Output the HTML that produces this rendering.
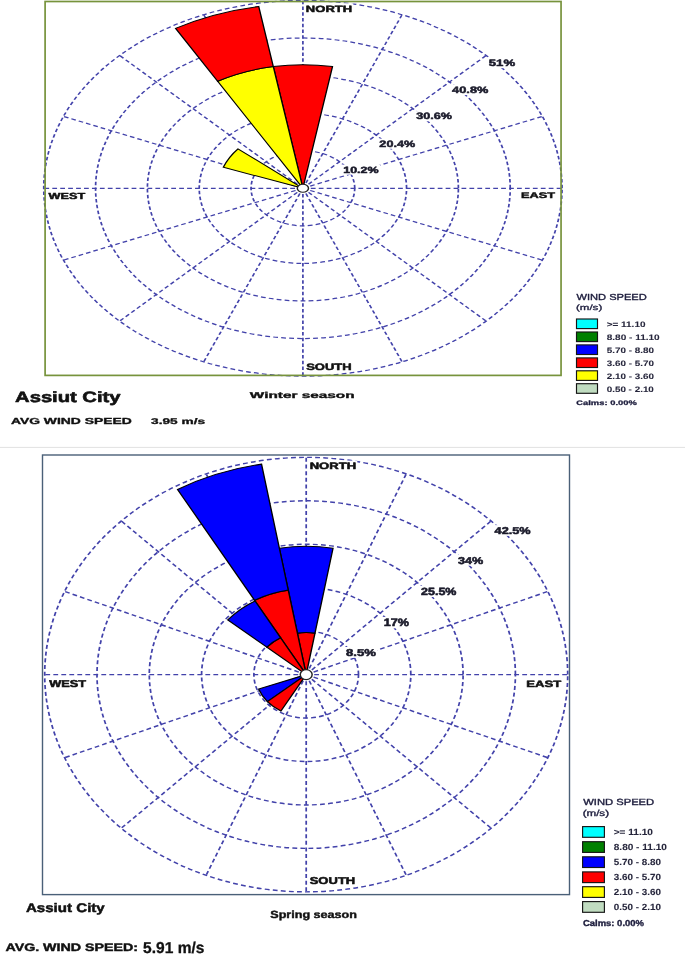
<!DOCTYPE html>
<html><head><meta charset="utf-8"><title>Wind rose</title>
<style>html,body{margin:0;padding:0;background:#fff;width:685px;height:955px;overflow:hidden}svg{display:block;filter:blur(0.3px)}</style></head>
<body><svg width="685" height="955" viewBox="0 0 685 955" font-family="'Liberation Sans', sans-serif" font-size="100" text-rendering="geometricPrecision">
<rect x="0" y="446.9" width="685" height="1" fill="#e2e2e2"/>
<g transform="translate(302.9 188.27) scale(51.83 37.57)">
<g fill="none" stroke="#4242aa" stroke-width="0.033" stroke-dasharray="0.093 0.0618">
<path d="M1 0A1 1 0 0 0 -1 0A1 1 0 0 0 1 0"/>
<path d="M2 0A2 2 0 0 0 -2 0A2 2 0 0 0 2 0"/>
<path d="M3 0A3 3 0 0 0 -3 0A3 3 0 0 0 3 0"/>
<path d="M4 0A4 4 0 0 0 -4 0A4 4 0 0 0 4 0"/>
<path d="M5 0A5 5 0 0 0 -5 0A5 5 0 0 0 5 0"/>
<line x1="0" y1="0" x2="0" y2="-5" stroke-dasharray="0.092 0.061"/>
<line x1="0" y1="0" x2="1.913" y2="-4.619" stroke-dasharray="0.092 0.061"/>
<line x1="0" y1="0" x2="3.536" y2="-3.536" stroke-dasharray="0.092 0.061"/>
<line x1="0" y1="0" x2="4.619" y2="-1.913" stroke-dasharray="0.092 0.061"/>
<line x1="0" y1="0" x2="5" y2="-0" stroke-dasharray="0.092 0.061"/>
<line x1="0" y1="0" x2="4.619" y2="1.913" stroke-dasharray="0.092 0.061"/>
<line x1="0" y1="0" x2="3.536" y2="3.536" stroke-dasharray="0.092 0.061"/>
<line x1="0" y1="0" x2="1.913" y2="4.619" stroke-dasharray="0.092 0.061"/>
<line x1="0" y1="0" x2="0" y2="5" stroke-dasharray="0.092 0.061"/>
<line x1="0" y1="0" x2="-1.913" y2="4.619" stroke-dasharray="0.092 0.061"/>
<line x1="0" y1="0" x2="-3.536" y2="3.536" stroke-dasharray="0.092 0.061"/>
<line x1="0" y1="0" x2="-4.619" y2="1.913" stroke-dasharray="0.092 0.061"/>
<line x1="0" y1="0" x2="-5" y2="0" stroke-dasharray="0.092 0.061"/>
<line x1="0" y1="0" x2="-4.619" y2="-1.913" stroke-dasharray="0.092 0.061"/>
<line x1="0" y1="0" x2="-3.536" y2="-3.536" stroke-dasharray="0.092 0.061"/>
<line x1="0" y1="0" x2="-1.913" y2="-4.619" stroke-dasharray="0.092 0.061"/>
</g>
<g stroke="#000" stroke-width="0.026" stroke-linejoin="miter">
<path d="M0 0L-0.571 -3.24A3.29 3.29 0 0 1 0.571 -3.24Z" fill="#ff0000"/>
<path d="M0 0L-1.645 -2.849A3.29 3.29 0 0 1 -0.571 -3.24Z" fill="#ffff00"/>
<path d="M-1.645 -2.849L-2.457 -4.257A4.915 4.915 0 0 1 -0.853 -4.84L-0.571 -3.24A3.29 3.29 0 0 0 -1.645 -2.849Z" fill="#ff0000"/>
<path d="M0 0L-1.535 -0.559A1.634 1.634 0 0 1 -1.252 -1.05Z" fill="#ffff00"/>
</g>
<circle r="0.108" fill="#fff" stroke="#222" stroke-width="0.028"/>
</g>
<rect x="45.1" y="1.5" width="515.95" height="373.9" fill="none" stroke="#77933c" stroke-width="1.7"/>
<g transform="translate(306.2 674.6) scale(52.3 43.45)">
<g fill="none" stroke="#4242aa" stroke-width="0.033" stroke-dasharray="0.093 0.0618">
<path d="M1 0A1 1 0 0 0 -1 0A1 1 0 0 0 1 0"/>
<path d="M2 0A2 2 0 0 0 -2 0A2 2 0 0 0 2 0"/>
<path d="M3 0A3 3 0 0 0 -3 0A3 3 0 0 0 3 0"/>
<path d="M4 0A4 4 0 0 0 -4 0A4 4 0 0 0 4 0"/>
<path d="M5 0A5 5 0 0 0 -5 0A5 5 0 0 0 5 0"/>
<line x1="0" y1="0" x2="0" y2="-5" stroke-dasharray="0.092 0.061"/>
<line x1="0" y1="0" x2="1.913" y2="-4.619" stroke-dasharray="0.092 0.061"/>
<line x1="0" y1="0" x2="3.536" y2="-3.536" stroke-dasharray="0.092 0.061"/>
<line x1="0" y1="0" x2="4.619" y2="-1.913" stroke-dasharray="0.092 0.061"/>
<line x1="0" y1="0" x2="5" y2="-0" stroke-dasharray="0.092 0.061"/>
<line x1="0" y1="0" x2="4.619" y2="1.913" stroke-dasharray="0.092 0.061"/>
<line x1="0" y1="0" x2="3.536" y2="3.536" stroke-dasharray="0.092 0.061"/>
<line x1="0" y1="0" x2="1.913" y2="4.619" stroke-dasharray="0.092 0.061"/>
<line x1="0" y1="0" x2="0" y2="5" stroke-dasharray="0.092 0.061"/>
<line x1="0" y1="0" x2="-1.913" y2="4.619" stroke-dasharray="0.092 0.061"/>
<line x1="0" y1="0" x2="-3.536" y2="3.536" stroke-dasharray="0.092 0.061"/>
<line x1="0" y1="0" x2="-4.619" y2="1.913" stroke-dasharray="0.092 0.061"/>
<line x1="0" y1="0" x2="-5" y2="0" stroke-dasharray="0.092 0.061"/>
<line x1="0" y1="0" x2="-4.619" y2="-1.913" stroke-dasharray="0.092 0.061"/>
<line x1="0" y1="0" x2="-3.536" y2="-3.536" stroke-dasharray="0.092 0.061"/>
<line x1="0" y1="0" x2="-1.913" y2="-4.619" stroke-dasharray="0.092 0.061"/>
</g>
<g stroke="#000" stroke-width="0.026" stroke-linejoin="miter">
<path d="M0 0L-0.168 -0.955A0.97 0.97 0 0 1 0.168 -0.955Z" fill="#ff0000"/>
<path d="M-0.168 -0.955L-0.513 -2.908A2.953 2.953 0 0 1 0.513 -2.908L0.168 -0.955A0.97 0.97 0 0 0 -0.168 -0.955Z" fill="#0000ff"/>
<path d="M0 0L-0.986 -1.709A1.973 1.973 0 0 1 -0.343 -1.943Z" fill="#ff0000"/>
<path d="M-0.986 -1.709L-2.46 -4.261A4.92 4.92 0 0 1 -0.854 -4.845L-0.343 -1.943A1.973 1.973 0 0 0 -0.986 -1.709Z" fill="#0000ff"/>
<path d="M0 0L-0.752 -0.631A0.982 0.982 0 0 1 -0.491 -0.85Z" fill="#ff0000"/>
<path d="M-0.752 -0.631L-1.499 -1.258A1.957 1.957 0 0 1 -0.978 -1.695L-0.491 -0.85A0.982 0.982 0 0 0 -0.752 -0.631Z" fill="#0000ff"/>
<path d="M0 0L-0.741 0.622A0.967 0.967 0 0 1 -0.909 0.331Z" fill="#0000ff"/>
<path d="M0 0L-0.483 0.837A0.967 0.967 0 0 1 -0.741 0.622Z" fill="#ff0000"/>
</g>
<circle r="0.114" fill="#fff" stroke="#222" stroke-width="0.028"/>
</g>
<rect x="42.5" y="455" width="527" height="439.6" fill="none" stroke="#4a6078" stroke-width="1.4"/>
<rect x="576.5" y="319" width="21" height="9.6" fill="#00ffff" stroke="#151515" stroke-width="1.15"/>
<rect x="576.5" y="332" width="21" height="9.6" fill="#008000" stroke="#151515" stroke-width="1.15"/>
<rect x="576.5" y="344.9" width="21" height="9.6" fill="#0000ff" stroke="#151515" stroke-width="1.15"/>
<rect x="576.5" y="357.9" width="21" height="9.6" fill="#ff0000" stroke="#151515" stroke-width="1.15"/>
<rect x="576.5" y="370.8" width="21" height="9.6" fill="#ffff00" stroke="#151515" stroke-width="1.15"/>
<rect x="576.5" y="383.7" width="21" height="9.6" fill="#c0dcc0" stroke="#151515" stroke-width="1.15"/>
<rect x="582.6" y="826.6" width="21.8" height="10.7" fill="#00ffff" stroke="#151515" stroke-width="1.15"/>
<rect x="582.6" y="841.7" width="21.8" height="10.7" fill="#008000" stroke="#151515" stroke-width="1.15"/>
<rect x="582.6" y="856.8" width="21.8" height="10.7" fill="#0000ff" stroke="#151515" stroke-width="1.15"/>
<rect x="582.6" y="871.9" width="21.8" height="10.7" fill="#ff0000" stroke="#151515" stroke-width="1.15"/>
<rect x="582.6" y="886.7" width="21.8" height="10.7" fill="#ffff00" stroke="#151515" stroke-width="1.15"/>
<rect x="582.6" y="901.6" width="21.8" height="10.7" fill="#c0dcc0" stroke="#151515" stroke-width="1.15"/>
<rect x="304.8" y="3.3" width="48.5" height="10.15" fill="#fff"/>
<text transform="translate(305.846 11.509) scale(0.13036 0.09085)" font-weight="bold" fill="#111" stroke="#111" stroke-width="5.5" stroke-linejoin="round">NORTH</text>
<rect x="304.6" y="361.4" width="48" height="10.3" fill="#fff"/>
<text transform="translate(306.168 369.752) scale(0.12967 0.09281)" font-weight="bold" fill="#111" stroke="#111" stroke-width="5.5" stroke-linejoin="round">SOUTH</text>
<rect x="46.5" y="190.6" width="40.6" height="10" fill="#fff"/>
<text transform="translate(48.45 198.667) scale(0.12743 0.08889)" font-weight="bold" fill="#111" stroke="#111" stroke-width="5.5" stroke-linejoin="round">WEST</text>
<rect x="520" y="190.8" width="37" height="9.4" fill="#fff"/>
<text transform="translate(521.057 198.296) scale(0.12779 0.08105)" font-weight="bold" fill="#111" stroke="#111" stroke-width="5.5" stroke-linejoin="round">EAST</text>
<rect x="342" y="164.6" width="38.3" height="10.1" fill="#fff"/>
<text transform="translate(343.193 172.762) scale(0.12513 0.09020)" font-weight="bold" fill="#1a1a2a" stroke="#1a1a2a" stroke-width="5.5" stroke-linejoin="round">10.2%</text>
<rect x="377.8" y="138.6" width="39" height="10.2" fill="#fff"/>
<text transform="translate(379.368 146.857) scale(0.12628 0.09150)" font-weight="bold" fill="#1a1a2a" stroke="#1a1a2a" stroke-width="5.5" stroke-linejoin="round">20.4%</text>
<rect x="414.5" y="111.1" width="39.1" height="10.2" fill="#fff"/>
<text transform="translate(416.195 119.357) scale(0.12619 0.09150)" font-weight="bold" fill="#1a1a2a" stroke="#1a1a2a" stroke-width="5.5" stroke-linejoin="round">30.6%</text>
<rect x="450.4" y="84.8" width="39.7" height="10.2" fill="#fff"/>
<text transform="translate(452.096 93.057) scale(0.12830 0.09150)" font-weight="bold" fill="#1a1a2a" stroke="#1a1a2a" stroke-width="5.5" stroke-linejoin="round">40.8%</text>
<rect x="487.2" y="58" width="29.5" height="10.2" fill="#fff"/>
<text transform="translate(488.767 66.252) scale(0.13183 0.09272)" font-weight="bold" fill="#1a1a2a" stroke="#1a1a2a" stroke-width="5.5" stroke-linejoin="round">51%</text>
<text transform="translate(15.098 401.504) scale(0.20172 0.14795)" font-weight="bold" fill="#111" stroke="#111" stroke-width="4" stroke-linejoin="round">Assiut City</text>
<text transform="translate(249.807 397.746) scale(0.15353 0.08462)" font-weight="bold" fill="#111" stroke="#111" stroke-width="4" stroke-linejoin="round">Winter season</text>
<text transform="translate(10.961 424.336) scale(0.13864 0.08800)" font-weight="bold" fill="#111" stroke="#111" stroke-width="4" stroke-linejoin="round">AVG WIND SPEED</text>
<text transform="translate(151.1 423.854) scale(0.13673 0.08205)" font-weight="bold" fill="#111" stroke="#111" stroke-width="4" stroke-linejoin="round">3.95 m/s</text>
<rect x="308.6" y="460.6" width="48.7" height="10.3" fill="#fff"/>
<text transform="translate(309.644 468.952) scale(0.13094 0.09281)" font-weight="bold" fill="#111" stroke="#111" stroke-width="5.5" stroke-linejoin="round">NORTH</text>
<rect x="308.1" y="875.6" width="48.2" height="10.8" fill="#fff"/>
<text transform="translate(309.667 884.427) scale(0.13025 0.09935)" font-weight="bold" fill="#111" stroke="#111" stroke-width="5.5" stroke-linejoin="round">SOUTH</text>
<rect x="47.2" y="677.9" width="40.8" height="10.8" fill="#fff"/>
<text transform="translate(49.152 686.727) scale(0.12811 0.09935)" font-weight="bold" fill="#111" stroke="#111" stroke-width="5.5" stroke-linejoin="round">WEST</text>
<rect x="525.2" y="678.7" width="37.8" height="10.2" fill="#fff"/>
<text transform="translate(526.244 686.957) scale(0.13081 0.09150)" font-weight="bold" fill="#111" stroke="#111" stroke-width="5.5" stroke-linejoin="round">EAST</text>
<rect x="344.5" y="647" width="32.9" height="10.8" fill="#fff"/>
<text transform="translate(346.067 655.827) scale(0.13055 0.09935)" font-weight="bold" fill="#1a1a2a" stroke="#1a1a2a" stroke-width="5.5" stroke-linejoin="round">8.5%</text>
<rect x="382.6" y="616.9" width="27.9" height="11.4" fill="#fff"/>
<text transform="translate(383.791 626.293) scale(0.12570 0.10861)" font-weight="bold" fill="#1a1a2a" stroke="#1a1a2a" stroke-width="5.5" stroke-linejoin="round">17%</text>
<rect x="419.4" y="585.8" width="38.7" height="11.2" fill="#fff"/>
<text transform="translate(420.969 595.008) scale(0.12522 0.10458)" font-weight="bold" fill="#1a1a2a" stroke="#1a1a2a" stroke-width="5.5" stroke-linejoin="round">25.5%</text>
<rect x="456.2" y="554.9" width="28.5" height="10.8" fill="#fff"/>
<text transform="translate(457.895 563.727) scale(0.12618 0.09935)" font-weight="bold" fill="#1a1a2a" stroke="#1a1a2a" stroke-width="5.5" stroke-linejoin="round">34%</text>
<rect x="492.9" y="525.1" width="39.2" height="10.8" fill="#fff"/>
<text transform="translate(494.595 533.927) scale(0.12654 0.09935)" font-weight="bold" fill="#1a1a2a" stroke="#1a1a2a" stroke-width="5.5" stroke-linejoin="round">42.5%</text>
<text transform="translate(25.949 911.751) scale(0.15086 0.12466)" font-weight="bold" fill="#111" stroke="#111" stroke-width="4" stroke-linejoin="round">Assiut City</text>
<text transform="translate(270.274 917.792) scale(0.12573 0.10411)" font-weight="bold" fill="#111" stroke="#111" stroke-width="4" stroke-linejoin="round">Spring season</text>
<text transform="translate(5.458 950.776) scale(0.14215 0.10800)" font-weight="bold" fill="#111" stroke="#111" stroke-width="4" stroke-linejoin="round">AVG. WIND SPEED:</text>
<text transform="translate(143.089 953.142) scale(0.15553 0.15775)" font-weight="bold" fill="#111" stroke="#111" stroke-width="2" stroke-linejoin="round">5.91 m/s</text>
<text transform="translate(576.511 299.64) scale(0.11092 0.08667)" font-weight="normal" fill="#1c1c3c" stroke="#1c1c3c" stroke-width="4" stroke-linejoin="round">WIND SPEED</text>
<text transform="translate(575.938 310.416) scale(0.11545 0.07755)" font-weight="normal" fill="#1c1c3c" stroke="#1c1c3c" stroke-width="4" stroke-linejoin="round">(m/s)</text>
<text transform="translate(606.651 326.881) scale(0.09974 0.07917)" font-weight="bold" fill="#26263c" stroke="#26263c" stroke-width="1" stroke-linejoin="round">&gt;= 11.10</text>
<text transform="translate(606.75 339.881) scale(0.10019 0.07917)" font-weight="bold" fill="#26263c" stroke="#26263c" stroke-width="1" stroke-linejoin="round">8.80 - 11.10</text>
<text transform="translate(606.754 352.781) scale(0.09852 0.07917)" font-weight="bold" fill="#26263c" stroke="#26263c" stroke-width="1" stroke-linejoin="round">5.70 - 8.80</text>
<text transform="translate(606.853 365.781) scale(0.09831 0.07917)" font-weight="bold" fill="#26263c" stroke="#26263c" stroke-width="1" stroke-linejoin="round">3.60 - 5.70</text>
<text transform="translate(606.754 378.681) scale(0.09852 0.07917)" font-weight="bold" fill="#26263c" stroke="#26263c" stroke-width="1" stroke-linejoin="round">2.10 - 3.60</text>
<text transform="translate(606.654 391.581) scale(0.09873 0.07917)" font-weight="bold" fill="#26263c" stroke="#26263c" stroke-width="1" stroke-linejoin="round">0.50 - 2.10</text>
<text transform="translate(576.212 404.704) scale(0.09408 0.06538)" font-weight="bold" fill="#1c1c3c" stroke="#1c1c3c" stroke-width="4" stroke-linejoin="round">Calms: 0.00%</text>
<text transform="translate(583.212 804.532) scale(0.11203 0.08933)" font-weight="normal" fill="#1c1c3c" stroke="#1c1c3c" stroke-width="4" stroke-linejoin="round">WIND SPEED</text>
<text transform="translate(582.636 815.729) scale(0.11591 0.08571)" font-weight="normal" fill="#1c1c3c" stroke="#1c1c3c" stroke-width="4" stroke-linejoin="round">(m/s)</text>
<text transform="translate(613.646 834.867) scale(0.10105 0.08889)" font-weight="bold" fill="#26263c" stroke="#26263c" stroke-width="1" stroke-linejoin="round">&gt;= 11.10</text>
<text transform="translate(613.749 849.967) scale(0.10057 0.08889)" font-weight="bold" fill="#26263c" stroke="#26263c" stroke-width="1" stroke-linejoin="round">8.80 - 11.10</text>
<text transform="translate(613.753 865.067) scale(0.09873 0.08889)" font-weight="bold" fill="#26263c" stroke="#26263c" stroke-width="1" stroke-linejoin="round">5.70 - 8.80</text>
<text transform="translate(613.852 880.167) scale(0.09852 0.08889)" font-weight="bold" fill="#26263c" stroke="#26263c" stroke-width="1" stroke-linejoin="round">3.60 - 5.70</text>
<text transform="translate(613.753 894.967) scale(0.09873 0.08889)" font-weight="bold" fill="#26263c" stroke="#26263c" stroke-width="1" stroke-linejoin="round">2.10 - 3.60</text>
<text transform="translate(613.654 909.867) scale(0.09894 0.08889)" font-weight="bold" fill="#26263c" stroke="#26263c" stroke-width="1" stroke-linejoin="round">0.50 - 2.10</text>
<text transform="translate(582.911 925.742) scale(0.09470 0.08590)" font-weight="bold" fill="#1c1c3c" stroke="#1c1c3c" stroke-width="4" stroke-linejoin="round">Calms: 0.00%</text>
</svg></body></html>
